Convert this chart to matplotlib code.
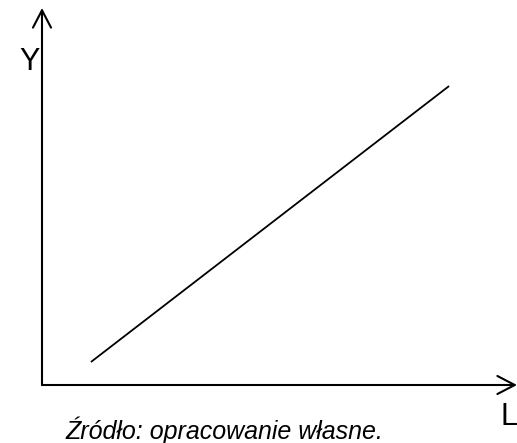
import matplotlib.pyplot as plt

# values (axis units 0..10)
L = [1.03, 8.57]
Y = [0.61, 7.93]

W, H = 517, 443
plt.rcParams['font.family'] = ['Liberation Sans', 'DejaVu Sans']

fig = plt.figure(figsize=(W / 100, H / 100), dpi=100)
ax = fig.add_axes([42 / W, 1 - 385 / H, (W - 42) / W, (385 - 8) / H])
ax.set_xlim(0, 10)
ax.set_ylim(0, 10)
ax.axis('off')

ax.plot(L, Y, color='black', lw=1.3, solid_capstyle='butt')

# axes with open arrow heads
arrow = dict(arrowstyle='->, head_length=1.25, head_width=0.65', lw=1.5,
             color='black', mutation_scale=10, shrinkA=0, shrinkB=0)
ax.annotate('', xy=(0, 1), xytext=(0, 0), xycoords='axes fraction', arrowprops=arrow,
            annotation_clip=False)
ax.annotate('', xy=(1, 0), xytext=(0, 0), xycoords='axes fraction', arrowprops=arrow,
            annotation_clip=False)

fig.text(30 / W, 1 - 62 / H, 'Y', fontsize=22, ha='center', va='center')
fig.text(509 / W, 1 - 417 / H, 'L', fontsize=22, ha='center', va='center')
fig.text(224 / W, 1 - 439 / H, 'Źródło: opracowanie własne.', fontsize=18,
         style='italic', ha='center', va='baseline')

fig.savefig('out.png', dpi=100)
